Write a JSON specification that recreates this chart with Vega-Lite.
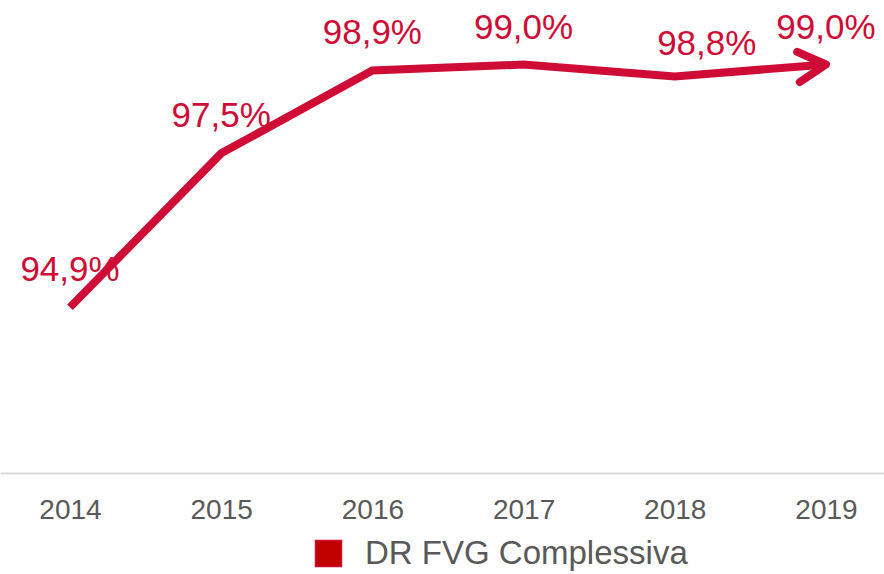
{
  "$schema": "https://vega.github.io/schema/vega-lite/v6.json",
  "width": 884,
  "height": 473,
  "autosize": {"type": "none"},
  "padding": {"left": 0, "top": 0, "right": 0, "bottom": 101},
  "background": "white",
  "config": {"view": {"stroke": null}, "font": "Liberation Sans"},
  "data": {
    "values": [
      {"year": 2014, "value": 94.9, "label": "94,9%", "series": "DR FVG Complessiva"},
      {"year": 2015, "value": 97.5, "label": "97,5%", "series": "DR FVG Complessiva"},
      {"year": 2016, "value": 98.9, "label": "98,9%", "series": "DR FVG Complessiva"},
      {"year": 2017, "value": 99.0, "label": "99,0%", "series": "DR FVG Complessiva"},
      {"year": 2018, "value": 98.8, "label": "98,8%", "series": "DR FVG Complessiva"},
      {"year": 2019, "value": 99.0, "label": "99,0%", "series": "DR FVG Complessiva"}
    ]
  },
  "encoding": {
    "x": {
      "field": "year",
      "type": "quantitative",
      "scale": {"domain": [2013.537, 2019.384], "nice": false, "zero": false},
      "axis": {
        "title": null,
        "values": [2014, 2015, 2016, 2017, 2018, 2019],
        "format": "d",
        "grid": false,
        "ticks": false,
        "domainColor": "#d9d9d9",
        "domainWidth": 2,
        "labelFontSize": 28,
        "labelColor": "#595959",
        "labelPadding": 23,
        "labelFont": "Liberation Sans"
      }
    },
    "y": {
      "field": "value",
      "type": "quantitative",
      "scale": {"domain": [92.1, 100.09], "nice": false, "zero": false},
      "axis": null
    }
  },
  "layer": [
    {
      "mark": {"type": "line", "strokeWidth": 8, "color": "#CE0C36", "strokeJoin": "miter"},
      "encoding": {
        "color": {
          "field": "series",
          "type": "nominal",
          "scale": {"range": ["#CE0C36"]},
          "legend": {
            "title": null,
            "orient": "none",
            "legendX": 312,
            "legendY": 537,
            "symbolType": "square",
            "symbolSize": 676,
            "labelFontSize": 33,
            "labelColor": "#595959",
            "labelFont": "Liberation Sans",
            "labelOffset": 20,
            "labelLimit": 0,
            "encode": {
              "symbols": {
                "update": {
                  "fill": {"value": "#C00000"},
                  "stroke": {"value": "#8c8c8c"},
                  "strokeWidth": {"value": 1.5}
                }
              }
            }
          }
        }
      }
    },
    {
      "transform": [{"filter": "datum.year == 2019"}],
      "mark": {
        "type": "point",
        "shape": "M -1 -0.55 L 0 0 L -1 0.55",
        "size": 3025,
        "filled": false,
        "stroke": "#CE0C36",
        "strokeWidth": 8,
        "strokeCap": "round",
        "strokeJoin": "round",
        "angle": -5,
        "opacity": 1
      }
    },
    {
      "transform": [{"filter": "datum.year != 2018"}],
      "mark": {
        "type": "text",
        "fontSize": 35,
        "color": "#CE0C36",
        "baseline": "alphabetic",
        "align": "center",
        "dy": -26,
        "font": "Liberation Sans"
      },
      "encoding": {"text": {"field": "label"}}
    },
    {
      "transform": [{"filter": "datum.year == 2018"}],
      "mark": {
        "type": "text",
        "fontSize": 35,
        "color": "#CE0C36",
        "baseline": "alphabetic",
        "align": "center",
        "dx": 32,
        "dy": -21,
        "font": "Liberation Sans"
      },
      "encoding": {"text": {"field": "label"}}
    }
  ]
}
